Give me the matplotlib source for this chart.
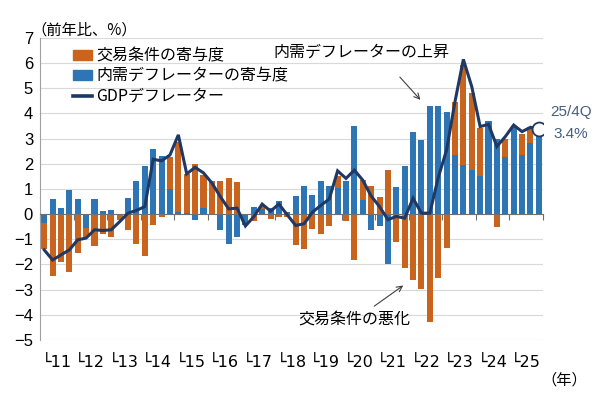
import numpy as np
import matplotlib
matplotlib.use('Agg')
import matplotlib.pyplot as plt
from matplotlib.patches import Patch
from matplotlib.lines import Line2D

plt.rcParams['font.family'] = ['Noto Sans CJK JP', 'DejaVu Sans']

# 2011Q1 - 2025Q4, 前年比 (%)
years = ['11', '12', '13', '14', '15', '16', '17', '18',
         '19', '20', '21', '22', '23', '24', '25']

naiju = [-0.35, 0.60, 0.24, 0.97, 0.61, -0.55, 0.61, 0.12, 0.15, 0.00,
         0.64, 1.32, 1.93, 2.58, 2.31, 1.00, 0.10, 0.05, -0.22, 0.26,
         0.00, -0.62, -1.18, -0.92, -0.45, 0.30, 0.20, 0.25, 0.53, 0.10,
         0.73, 1.10, 0.75, 1.32, 1.12, 1.05, 1.32, 3.52, 0.57, -0.62,
         -0.46, -1.97, 1.07, 1.93, 3.28, 2.93, 4.30, 4.30, 4.05, 2.35,
         1.96, 1.76, 1.52, 3.70, 3.00, 2.26, 3.45, 2.35, 2.84, 3.30]

koeki = [-1.05, -2.47, -1.90, -2.31, -1.55, -0.35, -1.28, -0.80, -0.89, -0.25,
         -0.62, -1.18, -1.65, -0.42, -0.13, 1.29, 2.78, 1.55, 1.98, 1.30,
         1.32, 1.32, 1.42, 1.26, 0.00, -0.29, 0.12, -0.20, -0.12, -0.13,
         -1.22, -1.38, -0.58, -0.80, -0.49, 0.45, -0.29, -1.84, 0.80, 1.12,
         0.70, 1.76, -1.09, -2.12, -2.60, -2.97, -4.28, -2.54, -1.35, 2.12,
         3.97, 3.07, 1.89, 0.00, -0.52, 0.74, -0.05, 0.85, 0.61, 0.00]

gdp_defl = [-1.42, -1.82, -1.62, -1.42, -1.02, -0.95, -0.62, -0.65, -0.62, -0.30,
            0.04, 0.15, 0.30, 2.18, 2.12, 2.35, 3.15, 1.60, 1.86, 1.64,
            1.24, 0.70, 0.21, 0.24, -0.47, -0.10, 0.40, 0.12, 0.40, -0.03,
            -0.45, -0.38, 0.08, 0.35, 0.60, 1.72, 1.42, 1.75, 1.35, 0.72,
            0.30, -0.22, -0.09, -0.16, 0.63, 0.04, 0.04, 1.45, 2.55, 4.47,
            6.15, 5.07, 3.48, 3.57, 2.69, 3.08, 3.54, 3.28, 3.45, 3.40]

c_orange = '#C8641E'
c_blue = '#2E75B6'
c_navy = '#1F3864'

naiju = np.array(naiju)
koeki = np.array(koeki)
x = np.arange(len(naiju))

fig = plt.figure(figsize=(6, 3.97), dpi=100)
ax = fig.add_axes([0.0667, 0.1436, 0.8383, 0.7607])

# 内需を0から積み、交易条件を同符号なら内需の先に積む
koeki_bottom = np.where(np.sign(koeki) == np.sign(naiju), naiju, 0)
ax.bar(x, naiju, width=0.72, color=c_blue, zorder=2)
ax.bar(x, koeki, width=0.72, bottom=koeki_bottom, color=c_orange, zorder=2)
ax.plot(x, gdp_defl, color=c_navy, lw=2.2, zorder=4, solid_joinstyle='miter')
ax.plot(x[-1], gdp_defl[-1], 'o', ms=10, mfc='white', mec=c_navy, mew=1.3, zorder=5)

ax.set_xlim(-0.5, len(x) - 0.5)
ax.set_ylim(-5, 7)
ax.set_yticks(range(-5, 8))
ax.set_yticklabels([str(v).replace('-', '−') for v in range(-5, 8)], fontsize=12,
                   family=['Liberation Sans', 'DejaVu Sans'])
ax.grid(axis='y', color='#D9D9D9', lw=0.8, zorder=0)
ax.tick_params(axis='y', length=0, pad=5)

for s in ['top', 'right']:
    ax.spines[s].set_visible(False)
ax.spines['left'].set_color('#A0A0A0')
ax.spines['bottom'].set_position(('data', 0))
ax.spines['bottom'].set_color('#707070')
ax.spines['bottom'].set_zorder(3)
bounds = np.arange(-0.5, len(x), 4)
ax.set_xticks(bounds)
ax.set_xticklabels([])
ax.tick_params(axis='x', direction='out', length=4, color='#707070')

for i, yr in enumerate(years):
    ax.text(4 * i - 0.3, -5.88, '└' + yr, ha='left', va='center', fontsize=11.5,
            family=['DejaVu Sans'], clip_on=False)

fig.text(0.052, 0.925, '（前年比、%）', fontsize=11, ha='left', va='center')
fig.text(0.902, 0.043, '（年）', fontsize=11, ha='left', va='center')

handles = [Patch(color=c_orange), Patch(color=c_blue), Line2D([], [], color=c_navy, lw=2.6)]
labels = ['交易条件の寄与度', '内需デフレーターの寄与度', 'GDPデフレーター']
ax.legend(handles, labels, loc='upper left', bbox_to_anchor=(0.108, 0.9),
          bbox_transform=fig.transFigure, frameon=False, fontsize=11.5,
          handlelength=1.2, handleheight=0.6, handletextpad=0.25, labelspacing=0.2,
          borderpad=0)

ax.annotate('', xy=(45.1, 4.46), xytext=(42.2, 5.53),
            arrowprops=dict(arrowstyle='->', color='#404040', lw=0.8))
ax.text(27.3, 6.45, '内需デフレーターの上昇', fontsize=11.5, ha='left', va='center')
ax.annotate('', xy=(43.1, -2.77), xytext=(39.1, -3.72),
            arrowprops=dict(arrowstyle='->', color='#404040', lw=0.8))
ax.text(30.3, -4.2, '交易条件の悪化', fontsize=11.5, ha='left', va='center')

ax.text(60.4, 4.05, '25/4Q', fontsize=11, color='#44607E', ha='left', va='center',
        family=['Liberation Sans', 'DejaVu Sans'], clip_on=False)
ax.text(60.8, 3.2, '3.4%', fontsize=11, color='#44607E', ha='left', va='center',
        family=['Liberation Sans', 'DejaVu Sans'], clip_on=False)

fig.savefig('out.png', dpi=100)
